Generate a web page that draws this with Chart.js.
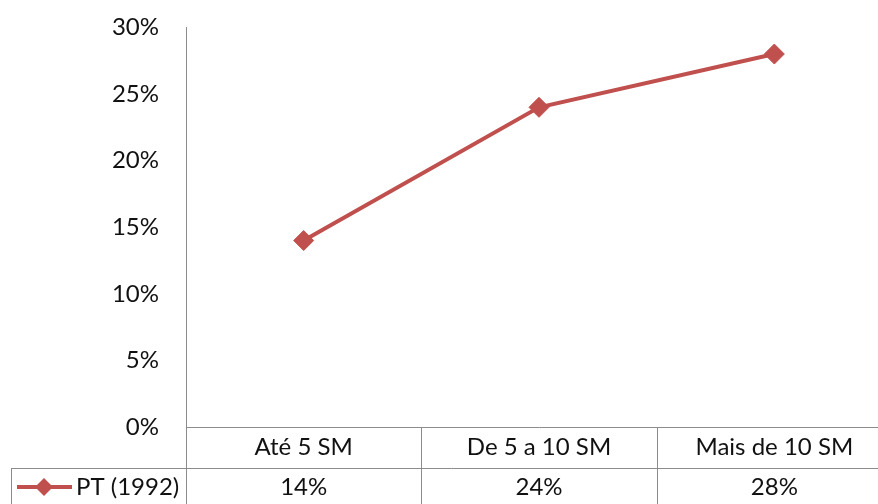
<!DOCTYPE html>
<html>
<head>
<meta charset="utf-8">
<script src="https://cdn.jsdelivr.net/npm/chart.js@4"></script>
<style>
  html, body { margin: 0; padding: 0; background: #fff; overflow: hidden; }
  #wrap { width: 878px; height: 504px; overflow: hidden; }
  #chart { display: block; margin-top: -14px; }
</style>
</head>
<body>
<div id="wrap"><canvas id="chart" width="892" height="522"></canvas></div>
<script>
const categories = ['Até 5 SM', 'De 5 a 10 SM', 'Mais de 10 SM'];
const seriesName = 'PT (1992)';
const seriesValues = [0.14, 0.24, 0.28];
const yTicks = [0, 0.05, 0.10, 0.15, 0.20, 0.25, 0.30];

const RED = '#C0504D';
const LINE_GREY = '#8c8c8c';
const FONT = 'Lato, "Open Sans", sans-serif';
const pct = v => Math.round(v * 100) + '%';

// draws the data table under the x axis (Excel style)
const dataTable = {
    id: 'dataTable',
    afterDraw(chart) {
        const ctx = chart.ctx;
        const x = chart.scales.x;
        const area = chart.chartArea;
        const W = chart.width, H = chart.height;
        const rowTop = Math.round(area.bottom) + 41;
        const rowMid = Math.round(area.bottom) + 60;

        ctx.save();
        ctx.strokeStyle = LINE_GREY;
        ctx.lineWidth = 1;
        ctx.beginPath();
        // row line and left border
        ctx.moveTo(11, rowTop + 0.5); ctx.lineTo(W, rowTop + 0.5);
        ctx.moveTo(11.5, rowTop); ctx.lineTo(11.5, H);
        // y axis continues down through the table
        ctx.moveTo(Math.round(area.left) + 0.5, area.bottom); ctx.lineTo(Math.round(area.left) + 0.5, H);
        // column separators
        for (let i = 0; i < categories.length - 1; i++) {
            const sx = Math.round((x.getPixelForValue(i) + x.getPixelForValue(i + 1)) / 2) + 0.5;
            ctx.moveTo(sx, area.bottom); ctx.lineTo(sx, H);
        }
        ctx.stroke();

        // legend key
        ctx.strokeStyle = RED;
        ctx.lineWidth = 4;
        ctx.beginPath();
        ctx.moveTo(17, rowMid); ctx.lineTo(72, rowMid);
        ctx.stroke();
        ctx.fillStyle = RED;
        ctx.beginPath();
        ctx.moveTo(44, rowMid - 9); ctx.lineTo(53, rowMid); ctx.lineTo(44, rowMid + 9); ctx.lineTo(35, rowMid);
        ctx.closePath();
        ctx.fill();

        ctx.fillStyle = '#111';
        ctx.font = '24px ' + FONT;
        ctx.textBaseline = 'middle';
        ctx.textAlign = 'left';
        ctx.fillText(seriesName, 76, rowMid);

        ctx.textAlign = 'center';
        seriesValues.forEach((v, i) => {
            ctx.fillText(pct(v), x.getPixelForValue(i), rowMid);
        });
        ctx.restore();
    }
};

new Chart(document.getElementById('chart').getContext('2d'), {
    type: 'line',
    data: {
        labels: categories,
        datasets: [{
            label: seriesName,
            data: seriesValues,
            borderColor: RED,
            backgroundColor: RED,
            borderWidth: 4,
            pointStyle: 'rectRot',
            pointRadius: 10,
            pointBorderWidth: 1,
            pointBackgroundColor: RED,
            pointBorderColor: RED,
            tension: 0
        }]
    },
    options: {
        responsive: false,
        animation: false,
        layout: { autoPadding: false, padding: { top: 13, left: 0, right: 0, bottom: 0 } },
        plugins: {
            legend: { display: false },
            tooltip: { enabled: false }
        },
        scales: {
            x: {
                offset: true,
                grid: { display: false, drawTicks: false },
                border: { display: true, color: LINE_GREY, width: 1 },
                ticks: { color: '#111', font: { family: FONT, size: 24 }, padding: 6, maxRotation: 0 },
                afterFit(scale) { scale.height = 81; }
            },
            y: {
                min: 0,
                max: 0.3,
                afterBuildTicks(scale) { scale.ticks = yTicks.map(v => ({ value: v })); },
                grid: { display: false, drawTicks: false },
                border: { display: true, color: LINE_GREY, width: 1 },
                ticks: { color: '#111', font: { family: FONT, size: 24 }, padding: 27, callback: v => pct(v) },
                afterFit(scale) { scale.width = 186; }
            }
        }
    },
    plugins: [dataTable]
});
</script>
</body>
</html>
